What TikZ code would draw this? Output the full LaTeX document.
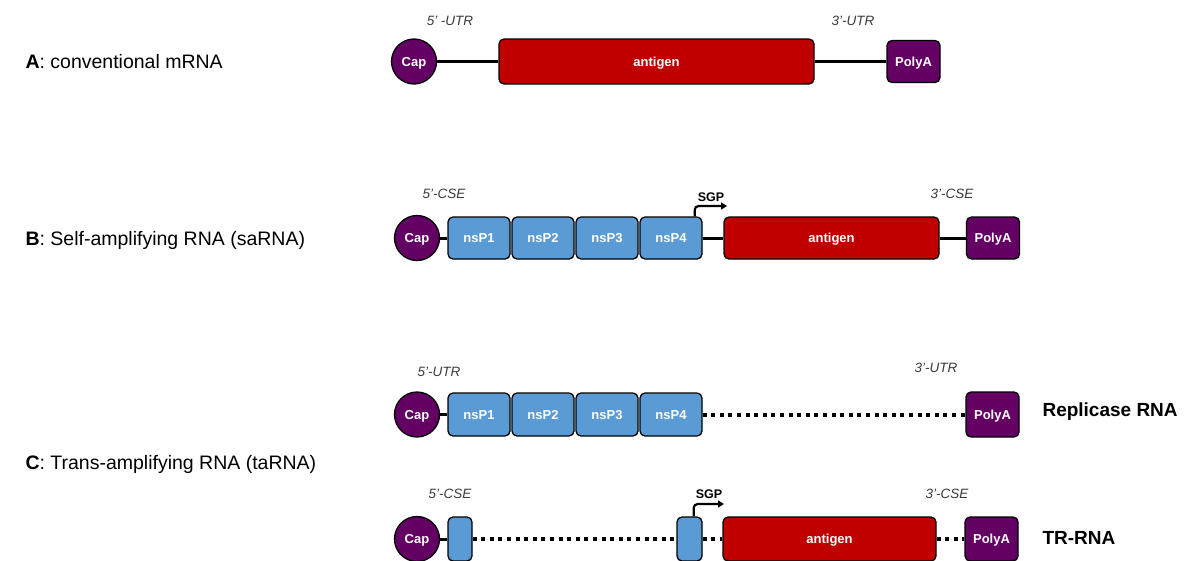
\documentclass[tikz,border=0pt]{standalone}
\usepackage{fontspec}
\setmainfont{Liberation Sans}
\usetikzlibrary{arrows.meta}
\definecolor{cappurple}{HTML}{640064}
\definecolor{antred}{HTML}{C00000}
\definecolor{nspblue}{HTML}{5B9BD5}
\definecolor{lblgray}{HTML}{3A3A3A}
\begin{document}
\begin{tikzpicture}[x=1pt,y=-1pt,
  box/.style={draw=black, line width=1.3pt, rounded corners=5pt, inner sep=0pt, text=white, text height=9.3pt, text depth=0pt, font=\bfseries\fontsize{13}{13}\selectfont},
  capnode/.style={draw=black, line width=1.3pt, circle, fill=cappurple, minimum size=45pt, inner sep=0pt, text=white, text height=9.3pt, text depth=0pt, font=\bfseries\fontsize{13}{13}\selectfont},
  nspbox/.style={box, fill=nspblue, minimum width=62pt},
  antbox/.style={box, fill=antred},
  polybox/.style={box, fill=cappurple, minimum width=53pt},
  solidline/.style={draw=black, line width=3pt},
  dotline/.style={draw=black, line width=4pt, dash pattern=on 4pt off 4.6pt},
  sgparrow/.style={draw=black, line width=2.2pt, rounded corners=4pt, -{Triangle[length=6pt,width=7pt]}},
  sgplabel/.style={font=\bfseries\fontsize{12.5}{12.5}\selectfont},
  reglabel/.style={font=\itshape\fontsize{13.5}{13.5}\selectfont, text=lblgray},
  rowlabel/.style={anchor=west, font=\fontsize{19.5}{19.5}\selectfont},
  rnalabel/.style={anchor=west, font=\bfseries\fontsize{19}{19}\selectfont}
]
\fill[white] (0,0) rectangle (1184,560);
\useasboundingbox (0,0) rectangle (1184,560);

% ---------- left labels
\node[rowlabel] (labA) at (22,62) {\textbf{A}: conventional mRNA};
\node[rowlabel] (labB) at (22,240) {\textbf{B}: Self-amplifying RNA (saRNA)};
\node[rowlabel] (labC) at (22,464) {\textbf{C}: Trans-amplifying RNA (taRNA)};

% ---------- Row A
\node[capnode] (capA) at (414,61.5) {Cap};
\node[antbox, minimum width=315pt, minimum height=45pt] (antA) at (656.5,61.5) {antigen};
\node[polybox, minimum height=42pt] (polyA) at (913.5,61.5) {PolyA};
\draw[solidline] (capA) -- (antA);
\draw[solidline] (antA) -- (polyA);
\node[reglabel] (utr5A) at (450,21) {5’ -UTR};
\node[reglabel] (utr3A) at (853,21) {3’-UTR};

% ---------- Row B
\node[capnode] (capB) at (417,238) {Cap};
\node[nspbox, minimum height=42pt] (n1B) at (479,238) {nsP1};
\node[nspbox, minimum height=42pt] (n2B) at (543,238) {nsP2};
\node[nspbox, minimum height=42pt] (n3B) at (607,238) {nsP3};
\node[nspbox, minimum height=42pt] (n4B) at (671,238) {nsP4};
\node[antbox, minimum width=215pt, minimum height=42pt] (antB) at (831.5,238) {antigen};
\node[polybox, minimum height=42pt] (polyB) at (993,238) {PolyA};
\draw[solidline] (capB) -- (n1B);
\draw[solidline] (n4B) -- (antB);
\draw[solidline] (antB) -- (polyB);
\coordinate (sgpB) at (727,206);
\draw[sgparrow] ([xshift=-8pt]n4B.north east) |- (sgpB);
\node[sgplabel] (sgptB) at (711,197) {SGP};
\node[reglabel] (cse5B) at (444,194) {5’-CSE};
\node[reglabel] (cse3B) at (952,194) {3’-CSE};

% ---------- Row C1 (replicase RNA)
\node[capnode] (capC) at (417,414.5) {Cap};
\node[nspbox, minimum height=43pt] (n1C) at (479,414.5) {nsP1};
\node[nspbox, minimum height=43pt] (n2C) at (543,414.5) {nsP2};
\node[nspbox, minimum height=43pt] (n3C) at (607,414.5) {nsP3};
\node[nspbox, minimum height=43pt] (n4C) at (671,414.5) {nsP4};
\node[polybox, minimum height=45pt] (polyC) at (992.5,414.5) {PolyA};
\draw[solidline] (capC) -- (n1C);
\draw[dotline] (n4C) -- (polyC);
\node[reglabel] (utr5C) at (439,372) {5’-UTR};
\node[reglabel] (utr3C) at (936,368) {3’-UTR};
\node[rnalabel] (repl) at (1039,412) {Replicase RNA};

% ---------- Row C2 (TR-RNA)
\node[capnode] (capD) at (417,539) {Cap};
\node[box, fill=nspblue, minimum width=24pt, minimum height=44pt] (r1D) at (460,539) {};
\node[box, fill=nspblue, minimum width=25pt, minimum height=44pt] (r2D) at (689.5,539) {};
\node[antbox, minimum width=213pt, minimum height=44pt] (antD) at (829.5,539) {antigen};
\node[polybox, minimum height=44pt] (polyD) at (991.5,539) {PolyA};
\draw[solidline] (capD) -- (r1D);
\draw[dotline] (r1D) -- (r2D);
\draw[dotline] (r2D) -- (antD);
\draw[dotline] (antD) -- (polyD);
\coordinate (sgpD) at (724,504);
\draw[sgparrow] ([xshift=-9pt]r2D.north east) |- (sgpD);
\node[sgplabel] (sgptD) at (709,494) {SGP};
\node[reglabel] (cse5D) at (450,494) {5’-CSE};
\node[reglabel] (cse3D) at (947,494) {3’-CSE};
\node[rnalabel] (trrna) at (1039,538) {TR-RNA};
\end{tikzpicture}
\end{document}
